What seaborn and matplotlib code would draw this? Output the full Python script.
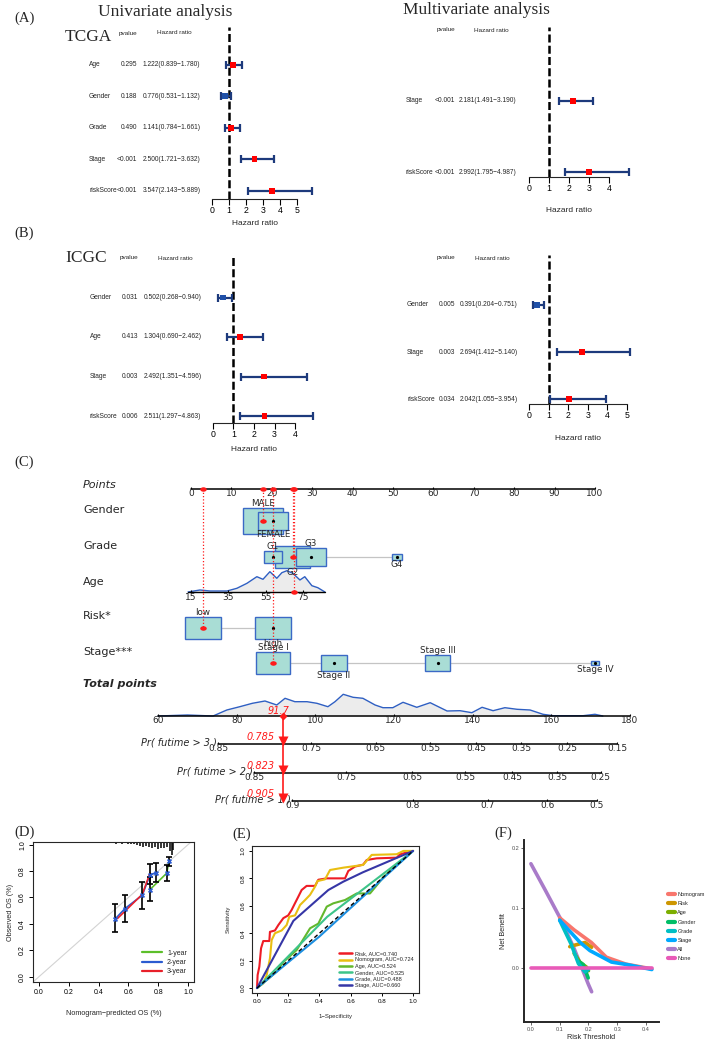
import numpy as np
import pandas as pd
import matplotlib
matplotlib.use("Agg")
import matplotlib.pyplot as plt
from matplotlib.patches import Rectangle
from matplotlib.lines import Line2D
import seaborn as sns

W, H = 709, 1042

# ---------------- data ----------------
# (A) TCGA univariate / multivariate Cox
tcga_uni_vars = ["Age", "Gender", "Grade", "Stage", "riskScore"]
tcga_uni_p = ["0.295", "0.188", "0.490", "<0.001", "<0.001"]
tcga_uni_hr = [1.222, 0.776, 1.141, 2.500, 3.547]
tcga_uni_lo = [0.839, 0.531, 0.784, 1.721, 2.143]
tcga_uni_hi = [1.780, 1.132, 1.661, 3.632, 5.889]

tcga_multi_vars = ["Stage", "riskScore"]
tcga_multi_p = ["<0.001", "<0.001"]
tcga_multi_hr = [2.181, 2.992]
tcga_multi_lo = [1.491, 1.795]
tcga_multi_hi = [3.190, 4.987]

# (B) ICGC univariate / multivariate Cox
icgc_uni_vars = ["Gender", "Age", "Stage", "riskScore"]
icgc_uni_p = ["0.031", "0.413", "0.003", "0.006"]
icgc_uni_hr = [0.502, 1.304, 2.492, 2.511]
icgc_uni_lo = [0.268, 0.690, 1.351, 1.297]
icgc_uni_hi = [0.940, 2.462, 4.596, 4.863]

icgc_multi_vars = ["Gender", "Stage", "riskScore"]
icgc_multi_p = ["0.005", "0.003", "0.034"]
icgc_multi_hr = [0.391, 2.694, 2.042]
icgc_multi_lo = [0.204, 1.412, 1.055]
icgc_multi_hi = [0.751, 5.140, 3.954]

# (C) nomogram: points per level and level frequency
gender_levels = ["MALE", "FEMALE"]
gender_pts = [17.8, 20.3]
gender_freq = [0.66, 0.34]
grade_levels = ["G1", "G2", "G3", "G4"]
grade_pts = [20.3, 25.2, 29.7, 51.0]
grade_freq = [0.14, 0.48, 0.34, 0.04]
risk_levels = ["low", "high"]
risk_pts = [3.0, 20.3]
risk_freq = [0.5, 0.5]
stage_levels = ["Stage I", "Stage II", "Stage III", "Stage IV"]
stage_pts = [20.3, 35.4, 61.1, 100.0]
stage_freq = [0.47, 0.26, 0.25, 0.02]
age_ticks = [15, 35, 55, 75]
age_pts_per_year = 0.4617
age_dens_x = [13.4, 19.8, 25.2, 34.3, 39.6, 45, 50.3, 53.6, 57.3, 61, 63.7, 66.4,
              69.6, 73.4, 76, 79.8, 83, 86.8]
age_dens_y = [0, 2, 1, 1, 3.7, 8.7, 15.3, 12.7, 20.3, 13.7, 19.3, 21.3, 18.7, 12,
              15.3, 6.3, 4.3, 0]
points_ticks = [0, 10, 20, 30, 40, 50, 60, 70, 80, 90, 100]
total_ticks = [60, 80, 100, 120, 140, 160, 180]
total_dens_x = [60, 67.5, 74, 77.5, 80.8, 84, 87.2, 90.2, 92.3, 94.8, 97.9, 100.4,
                103.2, 105, 107.1, 109.6, 112.1, 115.2, 117.2, 119.7, 122.3, 125.8,
                129.2, 133.5, 136.8, 139.8, 142.4, 145.2, 148.2, 151.3, 154.6, 157.9,
                160.4, 168.1, 171.1, 173.1]
total_dens_y = [0, 1, 0, 6, 9.3, 12.7, 15, 11, 17.7, 14.3, 14.3, 12.7, 9.3, 14.3,
                21.7, 18.7, 17.7, 11, 8.3, 8.3, 13.7, 8.7, 13.3, 5, 5.3, 3.3, 8.7,
                5.3, 8.3, 6.7, 6, 1.7, 0.3, 0.3, 1.7, 0]
pr3_labels = ["0.85", "0.75", "0.65", "0.55", "0.45", "0.35", "0.25", "0.15"]
pr3_at = [75.3, 98.9, 115.4, 129.2, 140.9, 152.3, 164.0, 176.7]
pr2_labels = ["0.85", "0.75", "0.65", "0.55", "0.45", "0.35", "0.25"]
pr2_at = [84.4, 107.8, 124.6, 138.1, 150.0, 161.5, 172.6]
pr1_labels = ["0.9", "0.8", "0.7", "0.6", "0.5"]
pr1_at = [94.1, 124.8, 143.9, 159.0, 171.6]
patient_total = 91.7
patient_pr = ["0.785", "0.823", "0.905"]
patient = {"Gender": "MALE", "Grade": "G2", "Age": 70, "Risk": "low", "Stage": "Stage I"}

# (D) calibration
cal1_pred = [0.745, 0.857, 0.872]
cal1_obs = [0.660, 0.784, 0.875]
cal2_pred = [0.510, 0.577, 0.693, 0.745, 0.785]
cal2_obs = [0.436, 0.516, 0.617, 0.772, 0.787]
cal3_pred = [0.526, 0.693, 0.745]
cal3_obs = [0.440, 0.624, 0.785]
err_x = [0.510, 0.577, 0.693, 0.745, 0.745, 0.785, 0.857, 0.872]
err_mid = [0.436, 0.516, 0.617, 0.772, 0.660, 0.787, 0.784, 0.875]
err_lo = [0.340, 0.416, 0.516, 0.700, 0.574, 0.717, 0.724, 0.840]
err_hi = [0.554, 0.620, 0.717, 0.855, 0.754, 0.862, 0.847, 0.910]
rug_x = [0.08, 0.10, 0.12, 0.14, 0.16, 0.18, 0.20, 0.22, 0.24, 0.26, 0.28, 0.30,
         0.32, 0.34, 0.36, 0.38, 0.40, 0.42, 0.44, 0.46, 0.48, 0.50, 0.52, 0.54,
         0.56, 0.58, 0.60, 0.62, 0.64, 0.66, 0.68, 0.70, 0.72, 0.74, 0.76, 0.78,
         0.80, 0.82, 0.84, 0.86, 0.88, 0.89, 0.90]
rug_h = [0.004, 0.005, 0.004, 0.006, 0.005, 0.004, 0.006, 0.005, 0.007, 0.005,
         0.006, 0.008, 0.006, 0.007, 0.009, 0.006, 0.008, 0.010, 0.007, 0.009,
         0.011, 0.008, 0.012, 0.010, 0.013, 0.011, 0.015, 0.012, 0.018, 0.020,
         0.028, 0.035, 0.030, 0.040, 0.045, 0.035, 0.050, 0.042, 0.048, 0.040,
         0.070, 0.095, 0.060]

# (E) ROC curves
roc_risk_fpr = [0, 0.004, 0.015, 0.026, 0.04, 0.079, 0.083, 0.115, 0.137, 0.169, 0.2,
                0.222, 0.244, 0.265, 0.286, 0.318, 0.372, 0.393, 0.447, 0.564, 0.585,
                0.628, 0.68, 0.703, 0.767, 0.895, 0.917, 1]
roc_risk_tpr = [0, 0.095, 0.156, 0.29, 0.343, 0.343, 0.41, 0.42, 0.46, 0.51, 0.53,
                0.57, 0.62, 0.667, 0.715, 0.745, 0.745, 0.79, 0.80, 0.80, 0.854,
                0.886, 0.90, 0.934, 0.946, 0.951, 0.976, 1]
roc_nomo_fpr = [0, 0.04, 0.062, 0.083, 0.094, 0.115, 0.158, 0.19, 0.207, 0.244, 0.276,
                0.308, 0.34, 0.372, 0.387, 0.436, 0.468, 0.553, 0.68, 0.735, 0.895,
                0.938, 1]
roc_nomo_tpr = [0, 0.034, 0.095, 0.217, 0.35, 0.40, 0.42, 0.46, 0.52, 0.53, 0.606,
                0.642, 0.68, 0.74, 0.78, 0.793, 0.861, 0.878, 0.898, 0.971, 0.976,
                1.0, 1]
roc_age_fpr = [0, 0.062, 0.126, 0.169, 0.254, 0.34, 0.393, 0.447, 0.489, 0.564, 0.639,
               0.724, 0.778, 0.81, 1]
roc_age_tpr = [0, 0.058, 0.12, 0.19, 0.277, 0.436, 0.47, 0.594, 0.618, 0.642, 0.69,
               0.69, 0.764, 0.81, 1]
roc_gender_fpr = [0, 0.45, 1]
roc_gender_tpr = [0, 0.52, 1]
roc_grade_fpr = [0, 0.40, 1]
roc_grade_tpr = [0, 0.376, 1]
roc_stage_fpr = [0, 0.233, 0.457, 0.553, 0.68, 1]
roc_stage_tpr = [0, 0.49, 0.715, 0.776, 0.845, 1]

# (F) decision curves
dca_models = ["Nomogram", "Risk", "Age", "Gender", "Grade", "Stage", "All", "None"]
dca_nomo_t = [0.10, 0.15, 0.21, 0.262, 0.33, 0.42]
dca_nomo_nb = [0.084, 0.064, 0.043, 0.0185, 0.007, -0.001]
dca_risk_t = [0.135, 0.148, 0.188, 0.211]
dca_risk_nb = [0.036, 0.038, 0.043, 0.035]
dca_age_t = [0.15, 0.17, 0.193, 0.20]
dca_age_nb = [0.025, 0.0104, 0.002, -0.004]
dca_gender_t = [0.165, 0.182, 0.199]
dca_gender_nb = [0.012, 0.006, -0.016]
dca_grade_t = [0.10, 0.14, 0.165, 0.188, 0.20]
dca_grade_nb = [0.080, 0.040, 0.008, -0.006, -0.002]
dca_stage_t = [0.10, 0.17, 0.205, 0.28, 0.333, 0.42]
dca_stage_nb = [0.080, 0.0435, 0.0295, 0.0104, 0.0063, -0.002]
dca_all_t = [0.0, 0.05, 0.10, 0.15, 0.20, 0.211]
dca_all_nb = [0.174, 0.13, 0.085, 0.033, -0.027, -0.039]
dca_none_t = [0.0, 0.42]
dca_none_nb = [0.0, 0.0]

# ---------------- style ----------------
sns.set_theme(style="ticks")
SANS = ["Liberation Sans", "DejaVu Sans"]
NARROW = ["Liberation Sans Narrow", "Liberation Sans", "DejaVu Sans"]
SERIF = ["Liberation Serif", "DejaVu Serif"]
WIDE = ["DejaVu Sans"]
plt.rcParams["font.family"] = SANS
plt.rcParams["axes.linewidth"] = 0.8

fig = plt.figure(figsize=(W / 100, H / 100), dpi=100)


def add_ax(x0, y0, x1, y1):
    ax = fig.add_axes([x0 / W, 1 - y1 / H, (x1 - x0) / W, (y1 - y0) / H])
    ax.patch.set_alpha(0)
    return ax


def ftext(x, y, s, **kw):
    kw.setdefault("va", "center")
    fig.text(x / W, 1 - y / H, s, **kw)


# ---------------- (A) / (B) forest plots ----------------
NAVY = "#1D3A7C"


def forest(names, pv, hr, lo, hi, px0, ppu, xlim, ticks, y_head, step, y_top,
           y_axis, x_name, x_p, x_hr, x_hr_end, lab_gap):
    ax = add_ax(px0 + xlim[0] * ppu, y_top, px0 + xlim[1] * ppu, y_axis)
    ax.set_xlim(*xlim)
    ax.set_ylim((y_axis - y_head) / step, (y_top - y_head) / step)
    rows = np.arange(1, len(names) + 1)
    ax.axvline(1, color="black", lw=1.8, ls=(0, (3.2, 1.3)))
    cap = 4.0 / step
    ax.hlines(rows, lo, hi, color=NAVY, lw=1.6)
    ax.vlines(lo, rows - cap, rows + cap, color=NAVY, lw=1.6)
    ax.vlines(hi, rows - cap, rows + cap, color=NAVY, lw=1.6)
    df = pd.DataFrame({"hr": hr, "row": rows, "up": [h > 1 for h in hr]})
    sns.scatterplot(data=df, x="hr", y="row", hue="up",
                    palette={True: "#FF0000", False: "#1F50A8"}, marker="s",
                    s=18, linewidth=0, legend=False, ax=ax, zorder=5)
    for s in ["left", "right", "top"]:
        ax.spines[s].set_visible(False)
    ax.spines["bottom"].set_bounds(ticks[0], ticks[-1])
    ax.spines["bottom"].set_linewidth(0.8)
    ax.set_xticks(ticks)
    ax.set_xticklabels([str(t) for t in ticks], fontfamily=NARROW, fontsize=6.3)
    ax.set_yticks([])
    ax.tick_params(axis="x", length=4, width=0.8, pad=1, colors="black")
    ax.set_xlabel("")
    ax.set_ylabel("")
    # table columns
    ftext(x_p, y_head, "pvalue", ha="right", fontsize=4.6, family=NARROW)
    ftext(x_hr_end, y_head, "Hazard ratio", ha="right", fontsize=4.6, family=NARROW)
    for i, (n, p, h, l, u) in enumerate(zip(names, pv, hr, lo, hi)):
        y = y_head + step * (i + 1)
        ftext(x_name, y, n, ha="left", fontsize=4.8, family=NARROW)
        ftext(x_p, y, p, ha="right", fontsize=4.8, family=NARROW)
        ftext(x_hr, y, f"{h:.3f}({l:.3f}\u2212{u:.3f})", ha="left", fontsize=4.8,
              family=NARROW)
    cx = px0 + (ticks[0] + ticks[-1]) / 2 * ppu
    ftext(cx, y_axis + lab_gap, "Hazard ratio", ha="center", fontsize=6, family=NARROW)


forest(tcga_uni_vars, tcga_uni_p, tcga_uni_hr, tcga_uni_lo, tcga_uni_hi,
       212, 17, (-0.8, 6.4), [0, 1, 2, 3, 4, 5], 33, 31.6, 27, 199,
       89, 137, 143, 192, 24)
forest(tcga_multi_vars, tcga_multi_p, tcga_multi_hr, tcga_multi_lo, tcga_multi_hi,
       529, 20, (-0.6, 5.4), [0, 1, 2, 3, 4], 30, 71, 27, 177,
       406, 455, 459, 509, 34)
forest(icgc_uni_vars, icgc_uni_p, icgc_uni_hr, icgc_uni_lo, icgc_uni_hi,
       213, 20.5, (-0.6, 5.2), [0, 1, 2, 3, 4], 258, 39.5, 255, 423,
       90, 138, 144, 193, 26)
forest(icgc_multi_vars, icgc_multi_p, icgc_multi_hr, icgc_multi_lo, icgc_multi_hi,
       529, 19.6, (-0.6, 5.6), [0, 1, 2, 3, 4, 5], 258, 47, 255, 404,
       407, 455, 460, 510, 34)

ftext(165, 12, "Univariate analysis", ha="center", fontsize=12.5, family=SERIF)
ftext(476, 10, "Multivariate analysis", ha="center", fontsize=12.5, family=SERIF)
ftext(65, 37, "TCGA", ha="left", fontsize=12.5, family=SERIF)
ftext(65, 258, "ICGC", ha="left", fontsize=12.5, family=SERIF)
for lab, x, y in [("(A)", 14, 18), ("(B)", 14, 233), ("(C)", 14, 462),
                  ("(D)", 14, 832), ("(E)", 232, 834), ("(F)", 494, 833)]:
    ftext(x, y, lab, ha="left", fontsize=10.5, family=SERIF)

# ---------------- (C) nomogram ----------------
NPX0, NPPU = 191, 4.04
BOX_FILL, BOX_EDGE, RED = "#A9DDD5", "#3B69C6", "#FF1A1A"
ell = [(1.45 * np.cos(t), np.sin(t)) for t in np.linspace(0, 2 * np.pi, 40)]

axn = add_ax(NPX0 - 28 * NPPU, 470, NPX0 + 112 * NPPU, 690)
axn.set_xlim(-28, 112)
axn.set_ylim(690, 470)
axn.axis("off")

Y_POINTS, Y_GENDER, Y_GRADE, Y_AGE, Y_RISK, Y_STAGE = 489, 521, 557, 592, 628, 663
for lab, y, style in [("Points", 485, "italic"), ("Gender", 510, "normal"),
                      ("Grade", 546, "normal"), ("Age", 582, "normal"),
                      ("Risk*", 616, "normal"), ("Stage***", 652, "normal")]:
    ftext(83, y, lab, ha="left", fontsize=8, family=WIDE, style=style)

axn.plot([0, 100], [Y_POINTS, Y_POINTS], color="black", lw=1.1)
axn.vlines(points_ticks, Y_POINTS - 2.5, Y_POINTS, color="black", lw=0.8)
for t in points_ticks:
    axn.text(t, Y_POINTS + 5, str(t), ha="center", va="center", fontsize=6.5,
             family=WIDE)


def factor_row(y, levels, pts, freq):
    axn.plot([min(pts), max(pts)], [y, y], color="#C4C4C4", lw=0.9, zorder=1)
    order = np.argsort(freq)[::-1]
    for k in order:
        w = 50 * np.sqrt(freq[k]) / NPPU
        h = 31 * np.sqrt(freq[k])
        axn.add_patch(Rectangle((pts[k] - w / 2, y - h / 2), w, h, facecolor=BOX_FILL,
                                edgecolor=BOX_EDGE, lw=1.0, zorder=2))
        axn.plot(pts[k], y, "o", color="black", ms=1.3, zorder=3)
    for k, lev in enumerate(levels):
        h = 31 * np.sqrt(freq[k])
        if k % 2 == 0:
            axn.text(pts[k], y - h / 2 - 0.3, lev, ha="center", va="bottom",
                     fontsize=6.3, family=WIDE, zorder=4)
        else:
            axn.text(pts[k], y + h / 2 + 0.3, lev, ha="center", va="top",
                     fontsize=6.3, family=WIDE, zorder=4)


factor_row(Y_GENDER, gender_levels, gender_pts, gender_freq)
factor_row(Y_GRADE, grade_levels, grade_pts, grade_freq)
factor_row(Y_RISK, risk_levels, risk_pts, risk_freq)
factor_row(Y_STAGE, stage_levels, stage_pts, stage_freq)

# age density and scale
age_x_pts = (np.array(age_dens_x) - age_ticks[0]) * age_pts_per_year
age_y = Y_AGE - np.array(age_dens_y)
axn.fill_between(age_x_pts, age_y, Y_AGE, color="#ECECEC", lw=0, zorder=1)
axn.plot(age_x_pts, age_y, color="#2F5FC2", lw=1.0, zorder=2)
axn.plot([age_x_pts[0], age_x_pts[-1]], [Y_AGE, Y_AGE], color="black", lw=1.0)
for a in age_ticks:
    xa = (a - age_ticks[0]) * age_pts_per_year
    axn.vlines(xa, Y_AGE - 2, Y_AGE, color="black", lw=0.8)
    axn.text(xa, Y_AGE + 5, str(a), ha="center", va="center", fontsize=6.5,
             family=WIDE)

# patient points
p_gender = gender_pts[gender_levels.index(patient["Gender"])]
p_grade = grade_pts[grade_levels.index(patient["Grade"])]
p_age = (patient["Age"] - age_ticks[0]) * age_pts_per_year
p_risk = risk_pts[risk_levels.index(patient["Risk"])]
p_stage = stage_pts[stage_levels.index(patient["Stage"])]
for px_, py_ in [(p_gender, Y_GENDER), (p_grade, Y_GRADE), (p_age, Y_AGE),
                 (p_risk, Y_RISK), (p_stage, Y_STAGE)]:
    axn.plot([px_, px_], [Y_POINTS, py_], color=RED, lw=0.9, ls=(0, (1, 1.6)), zorder=5)
    axn.scatter([px_, px_], [Y_POINTS, py_], marker=ell, s=22, color=RED, lw=0,
                zorder=6)

# total points + probability scales
TPX0, TPPU = 158, 3.933
axt = add_ax(TPX0 - 30 * TPPU, 676, TPX0 + 128 * TPPU, 812)
axt.set_xlim(30, 188)
axt.set_ylim(812, 676)
axt.axis("off")
Y_TOT = 716
ftext(83, 684, "Total points", ha="left", fontsize=8, family=WIDE, style="italic",
      weight="bold")
tdy = Y_TOT - np.array(total_dens_y)
axt.fill_between(total_dens_x, tdy, Y_TOT, color="#ECECEC", lw=0)
axt.plot(total_dens_x, tdy, color="#2F5FC2", lw=1.0)
axt.plot([total_ticks[0], total_ticks[-1]], [Y_TOT, Y_TOT], color="black", lw=1.1)
axt.vlines(total_ticks, Y_TOT - 2, Y_TOT, color="black", lw=0.8)
for t in total_ticks:
    axt.text(t, Y_TOT + 5, str(t), ha="center", va="center", fontsize=6.5,
             family=WIDE)

pr_rows = [("Pr( futime > 3 )", pr3_labels, pr3_at, 744),
           ("Pr( futime > 2 )", pr2_labels, pr2_at, 773),
           ("Pr( futime > 1 )", pr1_labels, pr1_at, 801)]
for (lab, labs, at, y), val in zip(pr_rows, patient_pr):
    axt.plot([at[0], at[-1]], [y, y], color="black", lw=1.1)
    axt.vlines(at, y - 2, y, color="black", lw=0.8)
    for t, s in zip(at, labs):
        axt.text(t, y + 4.5, s, ha="center", va="center", fontsize=6.5, family=WIDE)
    axt.text(at[0] - 0.3, y - 1.5, lab, ha="right", va="center", fontsize=7,
             family=WIDE, style="italic")
    axt.text(patient_total - 5.5, y - 7, val, ha="center", va="center", fontsize=7,
             family=WIDE, style="italic", color=RED)
    axt.plot(patient_total, y - 2.5, "v", color=RED, ms=6.5, mec="none", zorder=6)

axt.plot([patient_total, patient_total], [Y_TOT, pr_rows[-1][3]], color=RED, lw=1.2)
axt.plot(patient_total, Y_TOT, "D", color=RED, ms=4.5, mec="none", zorder=6)
axt.text(patient_total - 1, Y_TOT - 5, f"{patient_total}", ha="center", va="center",
         fontsize=7, family=WIDE, style="italic", color=RED)

# ---------------- (D) calibration ----------------
axd = add_ax(33, 842, 194, 982)
axd.set_xlim(-0.04, 1.04)
axd.set_ylim(-0.04, 1.02)
axd.plot([-0.04, 1.04], [-0.04, 1.04], color="#D3D3D3", lw=0.8)
axd.vlines(rug_x, 1.02 - np.array(rug_h), 1.02, color="black", lw=1.1)
cal = pd.concat([
    pd.DataFrame({"pred": cal1_pred, "obs": cal1_obs, "year": "1-year"}),
    pd.DataFrame({"pred": cal2_pred, "obs": cal2_obs, "year": "2-year"}),
    pd.DataFrame({"pred": cal3_pred, "obs": cal3_obs, "year": "3-year"}),
], ignore_index=True)
cal_colors = {"1-year": "#5CBF2A", "2-year": "#2B5BD0", "3-year": "#E8202A"}
sns.lineplot(data=cal, x="pred", y="obs", hue="year", palette=cal_colors, sort=False,
             estimator=None, lw=1.2, legend=False, ax=axd)
axd.errorbar(err_x, err_mid,
             yerr=[np.array(err_mid) - np.array(err_lo), np.array(err_hi) - np.array(err_mid)],
             fmt="none", ecolor="black", elinewidth=1.2, capsize=2, capthick=1.2)
sns.scatterplot(x=err_x, y=err_mid, marker="X", color="#2B5BD0", s=14, lw=0,
                ax=axd, zorder=5)
axd.set_xticks([0, 0.2, 0.4, 0.6, 0.8, 1.0])
axd.set_yticks([0, 0.2, 0.4, 0.6, 0.8, 1.0])
axd.set_xticklabels(["0.0", "0.2", "0.4", "0.6", "0.8", "1.0"], fontsize=5)
axd.set_yticklabels(["0.0", "0.2", "0.4", "0.6", "0.8", "1.0"], fontsize=5,
                    rotation=90, va="center")
axd.tick_params(length=3, width=0.7, pad=2, colors="black")
axd.set_xlabel("Nomogram\u2212predicted OS (%)", fontsize=5.2, labelpad=10)
axd.set_ylabel("Observed OS (%)", fontsize=5.2, labelpad=4)
axd.legend(handles=[Line2D([], [], color=c, lw=1.6, label=k) for k, c in cal_colors.items()],
           loc="lower right", frameon=False, fontsize=5, handlelength=2.8,
           labelspacing=0.3, borderaxespad=0.6)

# ---------------- (E) ROC ----------------
axe = add_ax(252, 846, 419, 993)
axe.set_xlim(-0.032, 1.038)
axe.set_ylim(-0.036, 1.036)
roc_colors = {"Risk, AUC=0.740": "#EE1C25", "Nomogram, AUC=0.724": "#E9BE12",
              "Age, AUC=0.524": "#63B82C", "Gender, AUC=0.525": "#3DC489",
              "Grade, AUC=0.488": "#1E8FE0", "Stage, AUC=0.660": "#3636A6"}
roc = pd.concat([
    pd.DataFrame({"fpr": roc_risk_fpr, "tpr": roc_risk_tpr, "model": "Risk, AUC=0.740"}),
    pd.DataFrame({"fpr": roc_nomo_fpr, "tpr": roc_nomo_tpr, "model": "Nomogram, AUC=0.724"}),
    pd.DataFrame({"fpr": roc_age_fpr, "tpr": roc_age_tpr, "model": "Age, AUC=0.524"}),
    pd.DataFrame({"fpr": roc_gender_fpr, "tpr": roc_gender_tpr, "model": "Gender, AUC=0.525"}),
    pd.DataFrame({"fpr": roc_grade_fpr, "tpr": roc_grade_tpr, "model": "Grade, AUC=0.488"}),
    pd.DataFrame({"fpr": roc_stage_fpr, "tpr": roc_stage_tpr, "model": "Stage, AUC=0.660"}),
], ignore_index=True)
sns.lineplot(data=roc, x="fpr", y="tpr", hue="model", palette=roc_colors, sort=False,
             estimator=None, lw=1.5, legend=False, ax=axe)
axe.plot([0, 1], [0, 1], color="black", lw=1.0, ls=(0, (3, 2)))
axe.set_xticks([0, 0.2, 0.4, 0.6, 0.8, 1.0])
axe.set_yticks([0, 0.2, 0.4, 0.6, 0.8, 1.0])
axe.set_xticklabels(["0.0", "0.2", "0.4", "0.6", "0.8", "1.0"], fontsize=4.5)
axe.set_yticklabels(["0.0", "0.2", "0.4", "0.6", "0.8", "1.0"], fontsize=4.5,
                    rotation=90, va="center")
axe.tick_params(length=2.5, width=0.7, pad=2, colors="black")
axe.set_xlabel("1\u2212Specificity", fontsize=4.3, labelpad=7)
axe.set_ylabel("Sensitivity", fontsize=4.3, labelpad=7)
axe.legend(handles=[Line2D([], [], color=c, lw=1.8, label=k) for k, c in roc_colors.items()],
           loc="lower right", frameon=False, fontsize=4, handlelength=2.4,
           labelspacing=0.25, borderaxespad=0.5, handletextpad=0.6)

# ---------------- (F) decision curves ----------------
axf = add_ax(524, 840, 659, 1022)
axf.set_xlim(-0.024, 0.445)
axf.set_ylim(-0.0893, 0.2135)
dca_colors = dict(zip(dca_models, ["#F8766D", "#CD9600", "#7CAE00", "#00BE67",
                                    "#00BFC4", "#00A9FF", "#C77CFF", "#FF61CC"]))
dca_colors["All"] = "#A97BC9"
dca_colors["None"] = "#E85AB8"
dca = pd.concat([
    pd.DataFrame({"t": dca_all_t, "nb": dca_all_nb, "model": "All"}),
    pd.DataFrame({"t": dca_nomo_t, "nb": dca_nomo_nb, "model": "Nomogram"}),
    pd.DataFrame({"t": dca_risk_t, "nb": dca_risk_nb, "model": "Risk"}),
    pd.DataFrame({"t": dca_age_t, "nb": dca_age_nb, "model": "Age"}),
    pd.DataFrame({"t": dca_gender_t, "nb": dca_gender_nb, "model": "Gender"}),
    pd.DataFrame({"t": dca_grade_t, "nb": dca_grade_nb, "model": "Grade"}),
    pd.DataFrame({"t": dca_stage_t, "nb": dca_stage_nb, "model": "Stage"}),
    pd.DataFrame({"t": dca_none_t, "nb": dca_none_nb, "model": "None"}),
], ignore_index=True)
sns.lineplot(data=dca, x="t", y="nb", hue="model", palette=dca_colors, sort=False,
             estimator=None, lw=2.6, legend=False, ax=axf)
for s in ["right", "top"]:
    axf.spines[s].set_visible(False)
for s in ["left", "bottom"]:
    axf.spines[s].set_linewidth(1.4)
axf.set_xticks([0, 0.1, 0.2, 0.3, 0.4])
axf.set_yticks([0, 0.1, 0.2])
axf.set_xticklabels(["0.0", "0.1", "0.2", "0.3", "0.4"], fontsize=4, color="#4D4D4D")
axf.set_yticklabels(["0.0", "0.1", "0.2"], fontsize=4, color="#4D4D4D")
axf.tick_params(length=2, width=0.6, pad=1.5, colors="#4D4D4D")
axf.set_xlabel("Risk Threshold", fontsize=5.2, labelpad=1.5)
axf.set_ylabel("Net Benefit", fontsize=5.2, labelpad=3)
axf.legend(handles=[Line2D([], [], color=dca_colors[m], lw=3, label=m) for m in dca_models],
           loc="upper left", bbox_to_anchor=(668 / W, 1 - 892 / H),
           bbox_transform=fig.transFigure, frameon=False, fontsize=4,
           handlelength=1.2, labelspacing=0.75, borderaxespad=0, borderpad=0,
           handletextpad=0.5)

fig.savefig("out.png", dpi=100)
